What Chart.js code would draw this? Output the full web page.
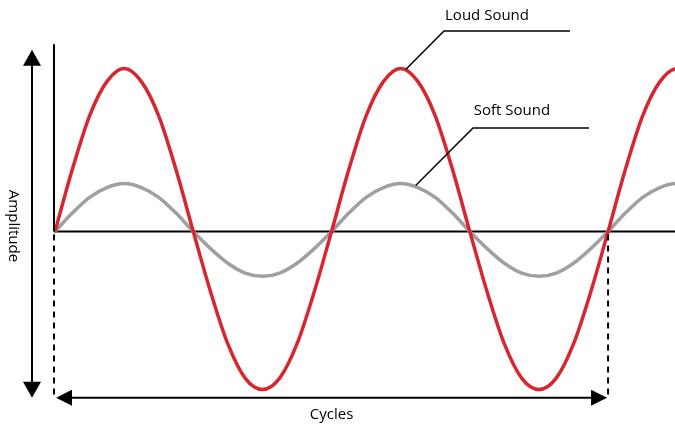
<!DOCTYPE html>
<html lang="en">
<head>
    <meta charset="UTF-8">
    <title>Loud vs Soft Sound</title>
    <script src="https://cdn.jsdelivr.net/npm/chart.js"></script>
    <style>
        body { margin: 0; padding: 0; background: #ffffff; }
        .wrap { width: 675px; height: 427px; position: relative; }
    </style>
</head>
<body>
    <div class="wrap"><canvas id="waveChart"></canvas></div>

    <script>
        // cycles, sampled every 1/16 cycle
        const cycles = [0, 0.0625, 0.125, 0.1875, 0.25, 0.3125, 0.375, 0.4375, 0.5,
                        0.5625, 0.625, 0.6875, 0.75, 0.8125, 0.875, 0.9375, 1,
                        1.0625, 1.125, 1.1875, 1.25, 1.3125, 1.375, 1.4375, 1.5,
                        1.5625, 1.625, 1.6875, 1.75, 1.8125, 1.875, 1.9375, 2,
                        2.0625, 2.125, 2.1875, 2.25, 2.3125];
        const loudSound = [0, 3.8, 7.1, 9.2, 10, 9.2, 7.1, 3.8, 0,
                           -3.7, -6.9, -9.0, -9.7, -9.0, -6.9, -3.7, 0,
                           3.8, 7.1, 9.2, 10, 9.2, 7.1, 3.8, 0,
                           -3.7, -6.9, -9.0, -9.7, -9.0, -6.9, -3.7, 0,
                           3.8, 7.1, 9.2, 10, 9.2];
        const softSound = [0, 1.13, 2.1, 2.7, 2.95, 2.7, 2.1, 1.13, 0,
                           -1.05, -1.95, -2.55, -2.75, -2.55, -1.95, -1.05, 0,
                           1.13, 2.1, 2.7, 2.95, 2.7, 2.1, 1.13, 0,
                           -1.05, -1.95, -2.55, -2.75, -2.55, -1.95, -1.05, 0,
                           1.13, 2.1, 2.7, 2.95, 2.7];
        const seriesLabels = ["Loud Sound", "Soft Sound"];

        const FONT = "15px 'Open Sans', sans-serif";

        function arrowHead(ctx, x, y, dir) {
            // dir: 'up', 'down', 'left', 'right'; (x,y) is the tip
            ctx.beginPath();
            if (dir === "up") { ctx.moveTo(x, y); ctx.lineTo(x - 9, y + 16); ctx.lineTo(x + 9, y + 16); }
            if (dir === "down") { ctx.moveTo(x, y); ctx.lineTo(x - 9, y - 16); ctx.lineTo(x + 9, y - 16); }
            if (dir === "left") { ctx.moveTo(x, y); ctx.lineTo(x + 16, y - 8); ctx.lineTo(x + 16, y + 8); }
            if (dir === "right") { ctx.moveTo(x, y); ctx.lineTo(x - 16, y - 8); ctx.lineTo(x - 16, y + 8); }
            ctx.closePath();
            ctx.fill();
        }

        const decorations = {
            id: "decorations",
            beforeDatasetsDraw(chart) {
                const ctx = chart.ctx;
                const xs = chart.scales.x, ys = chart.scales.y;
                const x0 = xs.getPixelForValue(0);
                const y0 = ys.getPixelForValue(0);
                ctx.save();
                ctx.strokeStyle = "#000";
                ctx.lineWidth = 2;
                // baseline
                ctx.beginPath();
                ctx.moveTo(x0 - 1, y0);
                ctx.lineTo(chart.chartArea.right, y0);
                ctx.stroke();
                // vertical axis above baseline
                ctx.beginPath();
                ctx.moveTo(x0 - 1, ys.getPixelForValue(11.5));
                ctx.lineTo(x0 - 1, y0);
                ctx.stroke();
                ctx.restore();
            },
            afterDatasetsDraw(chart) {
                const ctx = chart.ctx;
                const xs = chart.scales.x, ys = chart.scales.y;
                const x0 = xs.getPixelForValue(0);
                const x2 = xs.getPixelForValue(2);
                const y0 = ys.getPixelForValue(0);
                const yLow = ys.getPixelForValue(-10.2);
                ctx.save();
                ctx.strokeStyle = "#000";
                ctx.fillStyle = "#000";

                // dashed drop lines
                ctx.lineWidth = 2;
                ctx.setLineDash([6, 5]);
                [x0 - 1, x2].forEach(function (x) {
                    ctx.beginPath();
                    ctx.moveTo(x, y0 + 3);
                    ctx.lineTo(x, yLow);
                    ctx.stroke();
                });
                ctx.setLineDash([]);

                // cycles arrow
                ctx.beginPath();
                ctx.moveTo(x0 + 10, yLow);
                ctx.lineTo(x2 - 10, yLow);
                ctx.stroke();
                arrowHead(ctx, x0 + 1, yLow, "left");
                arrowHead(ctx, x2 - 1, yLow, "right");

                // amplitude arrow
                const ax = x0 - 23;
                const aTop = ys.getPixelForValue(11.15);
                ctx.beginPath();
                ctx.moveTo(ax, aTop + 10);
                ctx.lineTo(ax, yLow - 10);
                ctx.stroke();
                arrowHead(ctx, ax, aTop, "up");
                arrowHead(ctx, ax, yLow, "down");

                // axis titles
                ctx.font = FONT;
                ctx.textAlign = "center";
                ctx.textBaseline = "middle";
                ctx.fillText("Cycles", (x0 + x2) / 2, 415);
                ctx.save();
                ctx.translate(13, 226);
                ctx.rotate(Math.PI / 2);
                ctx.fillText("Amplitude", 0, 0);
                ctx.restore();

                // leader lines + labels
                ctx.lineWidth = 1.5;
                const loudPt = chart.getDatasetMeta(0).data[20];
                const softPt = chart.getDatasetMeta(1).data[20];
                const leaders = [
                    { pt: loudPt, dx: 5, dy: 1, ex: 444, ey: 31, end: 570, text: seriesLabels[0], tx: 487, ty: 16 },
                    { pt: softPt, dx: 15, dy: 2, ex: 473, ey: 128, end: 589, text: seriesLabels[1], tx: 512, ty: 111 }
                ];
                leaders.forEach(function (l) {
                    ctx.beginPath();
                    ctx.moveTo(l.pt.x + l.dx, l.pt.y + l.dy);
                    ctx.lineTo(l.ex, l.ey);
                    ctx.lineTo(l.end, l.ey);
                    ctx.stroke();
                    ctx.fillText(l.text, l.tx, l.ty);
                });
                ctx.restore();
            }
        };

        new Chart(document.getElementById("waveChart"), {
            type: "line",
            data: {
                labels: cycles,
                datasets: [
                    {
                        label: seriesLabels[0],
                        data: cycles.map((c, i) => ({ x: c, y: loudSound[i] })),
                        borderColor: "#d8262f",
                        borderWidth: 3.5,
                        pointRadius: 0,
                        cubicInterpolationMode: "monotone"
                    },
                    {
                        label: seriesLabels[1],
                        data: cycles.map((c, i) => ({ x: c, y: softSound[i] })),
                        borderColor: "#a0a0a0",
                        borderWidth: 3.5,
                        pointRadius: 0,
                        cubicInterpolationMode: "monotone"
                    }
                ]
            },
            options: {
                responsive: true,
                maintainAspectRatio: false,
                animation: false,
                layout: { padding: { left: 55, right: 0, top: 36, bottom: 0 } },
                scales: {
                    x: { type: "linear", min: 0, max: 2.242, display: false },
                    y: { min: -12, max: 12, display: false }
                },
                plugins: {
                    legend: { display: false },
                    tooltip: { enabled: false }
                }
            },
            plugins: [decorations]
        });
    </script>
</body>
</html>
